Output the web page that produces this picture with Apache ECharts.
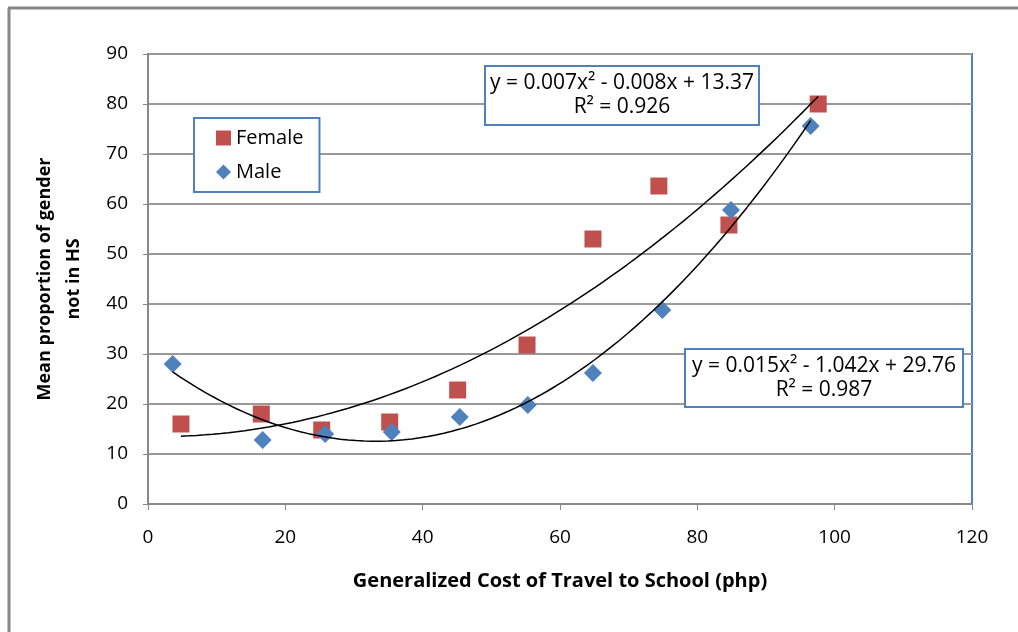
<!DOCTYPE html>
<html>
<head>
<meta charset="utf-8">
<script src="https://cdn.jsdelivr.net/npm/echarts@6/dist/echarts.min.js"></script>
<style>
  html, body { margin: 0; padding: 0; background: #fff; }
  #chart { width: 1018px; height: 632px; }
</style>
</head>
<body>
<div id="chart"></div>
<script>
// values
const femaleX = [4.8, 16.5, 25.3, 35.2, 45.1, 55.2, 64.8, 74.4, 84.6, 97.6];
const femaleY = [16.0, 18.0, 14.8, 16.4, 22.8, 31.8, 53.0, 63.6, 55.8, 80.0];
const maleX = [3.6, 16.7, 25.8, 35.5, 45.4, 55.3, 64.8, 74.9, 84.9, 96.5];
const maleY = [28.0, 12.8, 14.0, 14.4, 17.4, 19.8, 26.2, 38.8, 58.8, 75.6];
const femaleEq = ['y = 0.007x² - 0.008x + 13.37', 'R² = 0.926'];
const maleEq = ['y = 0.015x² - 1.042x + 29.76', 'R² = 0.987'];

const font = "'Open Sans', sans-serif";

// quadratic least squares fit, like the spreadsheet trendline
function polyFit(xs, ys) {
  let s = [0, 0, 0, 0, 0], t = [0, 0, 0];
  xs.forEach((x, i) => {
    for (let k = 0; k < 5; k++) s[k] += Math.pow(x, k);
    for (let k = 0; k < 3; k++) t[k] += Math.pow(x, k) * ys[i];
  });
  const m = [
    [s[0], s[1], s[2], t[0]],
    [s[1], s[2], s[3], t[1]],
    [s[2], s[3], s[4], t[2]]
  ];
  for (let i = 0; i < 3; i++) {
    for (let j = i + 1; j < 3; j++) {
      const f = m[j][i] / m[i][i];
      for (let k = i; k < 4; k++) m[j][k] -= f * m[i][k];
    }
  }
  const c = [0, 0, 0];
  for (let i = 2; i >= 0; i--) {
    let v = m[i][3];
    for (let k = i + 1; k < 3; k++) v -= m[i][k] * c[k];
    c[i] = v / m[i][i];
  }
  return c;
}

function trend(xs, ys) {
  const c = polyFit(xs, ys);
  const lo = Math.min(...xs), hi = Math.max(...xs);
  const pts = [];
  for (let i = 0; i <= 80; i++) {
    const x = lo + (hi - lo) * i / 80;
    pts.push([x, c[0] + c[1] * x + c[2] * x * x]);
  }
  return pts;
}

// boxed equation label, text centred in the box, kept above the trend lines
const eqBox = (x, y, w, h, lines) => ({
  type: 'group',
  left: x, top: y,
  z: 100,
  children: [
    {
      type: 'rect',
      z: 100,
      shape: { x: 0, y: 0, width: w, height: h },
      style: { fill: '#fff', stroke: '#4f81bd', lineWidth: 2 }
    },
    {
      type: 'text',
      z: 101,
      x: w / 2, y: h / 2,
      style: {
        text: lines.join('\n'),
        font: "21px 'Open Sans', sans-serif",
        fill: '#000',
        align: 'center',
        verticalAlign: 'middle',
        lineHeight: 24
      }
    }
  ]
});

const chart = echarts.init(document.getElementById('chart'));
chart.setOption({
  animation: false,
  grid: {
    left: 148, right: 46, top: 54, bottom: 128,
    show: true,
    borderColor: '#4f81bd',
    borderWidth: 2
  },
  legend: {
    data: ['Female', 'Male'],
    orient: 'vertical',
    left: 194, top: 118,
    padding: [10, 16, 10, 22],
    itemGap: 14,
    itemWidth: 15, itemHeight: 15,
    backgroundColor: '#fff',
    borderColor: '#4f81bd',
    borderWidth: 2,
    textStyle: { fontFamily: font, fontSize: 20, color: '#000' }
  },
  xAxis: {
    type: 'value',
    min: 0, max: 120, interval: 20,
    name: 'Generalized Cost of Travel to School (php)',
    nameLocation: 'middle',
    nameGap: 67,
    nameTextStyle: { fontFamily: font, fontWeight: 'bold', fontSize: 20, color: '#000' },
    axisLine: { show: true, lineStyle: { color: '#888', width: 2 } },
    axisTick: { show: true, length: 6, lineStyle: { color: '#888' } },
    axisLabel: { margin: 24, fontFamily: font, fontSize: 19, color: '#000' },
    splitLine: { show: false }
  },
  yAxis: {
    type: 'value',
    min: 0, max: 90, interval: 10,
    name: 'Mean proportion of gender\nnot in HS',
    nameLocation: 'middle',
    nameRotate: 90,
    nameGap: 60,
    nameTextStyle: { fontFamily: font, fontWeight: 'bold', fontSize: 18, color: '#000', lineHeight: 29 },
    axisLine: { show: true, lineStyle: { color: '#888', width: 2 } },
    axisTick: { show: true, length: 5, lineStyle: { color: '#888' } },
    axisLabel: { margin: 20, fontFamily: font, fontSize: 19, color: '#000' },
    splitLine: { show: true, lineStyle: { color: '#999', width: 2 } }
  },
  series: [
    {
      name: 'Female',
      type: 'scatter',
      symbol: 'rect',
      symbolSize: 17,
      itemStyle: { color: '#c0504d', opacity: 1 },
      data: femaleX.map((x, i) => [x, femaleY[i]])
    },
    {
      name: 'Male',
      type: 'scatter',
      symbol: 'diamond',
      symbolSize: 18,
      itemStyle: { color: '#4f81bd', opacity: 1 },
      data: maleX.map((x, i) => [x, maleY[i]])
    },
    {
      name: 'Female trend',
      type: 'line',
      showSymbol: false,
      silent: true,
      lineStyle: { color: '#000', width: 1.5 },
      data: trend(femaleX, femaleY)
    },
    {
      name: 'Male trend',
      type: 'line',
      showSymbol: false,
      silent: true,
      lineStyle: { color: '#000', width: 1.5 },
      data: trend(maleX, maleY)
    }
  ],
  graphic: [
    { type: 'line', shape: { x1: 9, y1: 8, x2: 9, y2: 632 }, style: { stroke: '#888', lineWidth: 3 } },
    { type: 'line', shape: { x1: 8, y1: 8, x2: 1018, y2: 8 }, style: { stroke: '#888', lineWidth: 3 } },
    eqBox(484, 65, 274, 59, femaleEq),
    eqBox(684, 348, 278, 58, maleEq)
  ]
});
</script>
</body>
</html>
